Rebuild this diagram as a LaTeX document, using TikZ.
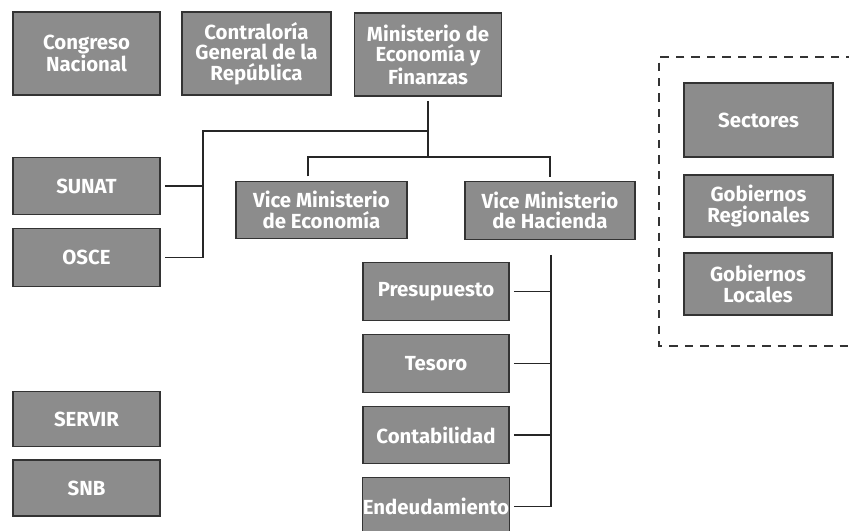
\documentclass[tikz,border=0pt]{standalone}
\usepackage{fontspec}
\setsansfont{Fira Sans}
\usepackage{tikz}
\usetikzlibrary{positioning}
\tikzset{
  unit/.style={draw=black!80, fill=black!45, text=white, line width=0.8pt,
    font=\sffamily\bfseries\fontsize{14.5}{14.5}\selectfont, align=center,
    inner sep=0pt, outer sep=3.5pt, minimum width=3.675cm},
  tall/.style={minimum height=2.075cm},
  short/.style={minimum height=1.43cm},
  link/.style={line width=0.9pt, black!85}
}

\begin{document}
\begin{tikzpicture}[x=0.025cm, y=-0.025cm]
\useasboundingbox (0,0) rectangle (849,531);
      % top row
      \draw node (cn) at (86.5,53.5) [unit, tall]{Congreso\\Nacional};
      \draw node (cgr) at (256.5,53.5) [unit, tall, minimum width=3.725cm]{Contraloría\\General de la\\República};
      \draw node (mef) at (428,54.5) [unit, tall]{Ministerio de\\Economía y\\Finanzas};
      % left column
      \draw node (sunat) at (86.5,186) [unit, short]{SUNAT};
      \draw node (osce) at (86.5,257.5) [unit, short]{OSCE};
      \draw node (servir) at (86.5,419) [unit, minimum height=1.38cm]{SERVIR};
      \draw node (snb) at (86.5,488) [unit, minimum height=1.4cm]{SNB};
      % vice ministerios
      \draw node (veco) at (321.5,210) [unit, short, minimum width=4.275cm]{Vice Ministerio\\de Economía};
      \draw node (vhac) at (550,210.5) [unit, short, minimum width=4.25cm]{Vice Ministerio\\de Hacienda};
\draw node foreach \n/\t/\y in {pre/Presupuesto/291.5, tes/Tesoro/363.5, con/Contabilidad/435, end/Endeudamiento/506.5}
  (\n) at (436,\y) [unit, short, minimum width=3.65cm]{\t};
      % gobierno
      \draw node (sec) at (758.5,120) [unit, minimum width=3.725cm, minimum height=1.85cm]{Sectores};
      \draw node (greg) at (758.5,206) [unit, minimum width=3.725cm, minimum height=1.55cm]{Gobiernos\\Regionales};
      \draw node (gloc) at (758,284) [unit, minimum width=3.7cm, minimum height=1.55cm]{Gobiernos\\Locales};

\coordinate (lbus) at (203,131);
\coordinate (vbus) at (308,157);
\coordinate (hbus) at (551,255);

\draw[link] (mef.south) -- (mef.south |- vbus)
  (mef.south |- lbus) -- (lbus) |- (osce.east)
  (sunat.east) -- (sunat.east -| lbus)
  (veco.north -| vbus) -- (vbus) -| (vhac.north)
  (hbus) -- (hbus |- end.east);
\draw[link] foreach \n in {pre,tes,con,end} {(\n.east) -- (\n.east -| hbus)};

\draw[black!80, line width=0.8pt, dash pattern=on 6pt off 5pt] (870,57) -- (659,57) -- (659,346) -- (870,346);
\end{tikzpicture}
\end{document}
